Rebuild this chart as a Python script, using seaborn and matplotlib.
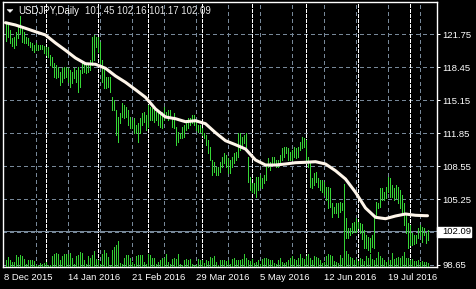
import numpy as np
import pandas as pd
import matplotlib
matplotlib.use("Agg")
import matplotlib.pyplot as plt
import matplotlib.transforms as mtrans
from matplotlib.patches import Polygon, Rectangle
import seaborn as sns

# ---------------- data ----------------
symbol = "USDJPY,Daily"
last_ohlc = [101.45, 102.16, 101.17, 102.09]
bid = 102.09

highs = [
    122.88, 122.65, 122.15, 121.32, 121.48, 121.98, 122.65, 123.55, 122.32, 121.98,
    121.48, 121.32, 120.98, 120.82, 120.65, 120.82, 120.65, 120.65, 120.65, 120.55,
    120.48, 120.42, 119.65, 119.48, 118.82, 118.65, 118.48, 117.98, 118.32, 118.48,
    118.48, 118.32, 118.15, 117.98, 118.32, 118.15, 118.48, 118.15, 118.82, 118.98,
    118.82, 118.65, 119.15, 121.48, 121.65, 121.48, 121.48, 120.98, 119.15, 118.32,
    117.48, 117.48, 117.48, 115.48, 115.15, 114.15, 113.48, 113.82, 114.82, 114.65,
    114.48, 114.15, 113.48, 113.15, 113.32, 112.65, 112.82, 113.32, 113.82, 113.98,
    113.65,
    114.65, 114.48, 114.32, 114.15, 113.98, 113.98, 113.82, 113.98, 114.48, 113.98,
    114.15, 114.15, 113.48, 113.82, 112.48, 111.98, 111.82, 112.48, 112.65, 113.15,
    113.32, 113.32, 113.65, 113.65, 113.15, 112.65, 112.65, 112.32, 111.82, 111.65,
    111.15, 110.48, 109.15, 108.98, 108.48, 108.48, 108.98, 109.48, 109.82, 109.65,
    109.32, 109.15, 109.48, 109.82, 109.98, 111.82, 111.82, 111.48, 111.65, 111.82,
    109.48, 107.48, 106.82, 106.82, 107.48, 107.48, 107.65, 107.32, 107.65, 108.65,
    109.32, 108.98, 109.48, 109.48, 109.15, 109.15, 109.65, 110.32, 110.48, 110.48,
    110.32, 109.98, 110.15,
    110.48, 110.32, 110.48, 110.98, 111.48, 111.32, 111.15, 109.48, 108.82, 107.32,
    107.82, 107.98, 107.32, 107.15, 107.15, 106.98,
    106.48, 106.48, 106.32, 104.82, 104.48, 104.82, 104.82, 104.98, 104.82, 106.72,
    103.32, 102.32, 102.32, 102.82, 102.98, 103.32, 102.98, 102.82, 102.72, 102.15,
    101.65, 101.48, 101.32, 101.65, 103.32, 104.98, 104.82, 106.32, 106.32, 105.98,
    106.48, 107.48, 107.32, 106.65, 106.32, 106.65, 106.48, 106.15, 105.65, 104.82,
    103.65, 102.82, 102.65, 101.82, 101.65, 101.65, 102.32, 102.65, 102.48, 102.32,
    101.82, 102.16,
]

lows = [
    121.08, 121.48, 120.82, 120.55, 120.32, 120.65, 121.32, 121.82, 120.98, 120.82,
    120.82, 120.65, 120.48, 120.15, 119.98, 120.15, 120.15, 120.22, 120.22, 119.88,
    119.65, 119.48, 118.65, 118.48, 117.48, 117.32, 117.48, 116.65, 116.98, 117.32,
    117.48, 116.98, 116.48, 116.82, 117.32, 116.98, 115.98, 116.48, 117.82, 117.98,
    117.82, 117.98, 118.15, 118.65, 119.15, 120.48, 119.98, 118.82, 116.98, 116.32,
    116.32, 116.48, 115.98, 114.15, 114.15, 111.65, 110.98, 112.82, 113.48, 113.32,
    113.48, 112.65, 112.32, 112.32, 111.82, 111.82, 110.98, 111.82, 112.65, 112.98,
    112.15,
    112.48, 113.15, 113.15, 112.98, 113.15, 112.65, 112.48, 112.32, 113.15, 113.48,
    113.15, 113.32, 112.48, 112.32, 110.65, 110.98, 111.32, 111.32, 111.48, 112.15,
    112.32, 112.65, 112.82, 112.65, 112.15, 111.98, 111.98, 111.65, 111.32, 110.65,
    109.82, 109.15, 107.65, 107.98, 107.65, 107.65, 107.98, 108.48, 108.82, 108.48,
    107.82, 107.82, 108.48, 108.82, 109.15, 109.48, 110.15, 110.48, 110.82, 110.48,
    106.98, 106.15, 105.98, 105.82, 105.48, 106.15, 106.48, 106.32, 106.82, 107.15,
    108.48, 108.15, 108.65, 108.65, 108.48, 108.48, 108.82, 109.15, 109.48, 109.82,
    109.15, 109.15, 109.15,
    109.48, 109.32, 109.48, 110.15, 110.32, 110.48, 108.98, 108.48, 106.48, 106.32,
    106.65, 106.98, 106.48, 106.15, 105.98, 105.65,
    105.15, 104.32, 104.48, 103.48, 103.82, 103.82, 103.48, 103.98, 104.15, 99.00,
    101.38, 101.38, 101.65, 101.82, 101.98, 101.98, 102.32, 101.82, 101.25, 100.32,
    100.32, 100.15, 99.92, 100.48, 100.32, 103.32, 104.32, 104.48, 105.15, 105.15,
    105.32, 105.98, 105.48, 105.48, 105.15, 105.32, 104.82, 104.32, 103.82, 102.65,
    101.82, 100.32, 100.65, 100.65, 100.72, 100.82, 101.32, 101.65, 100.98, 101.65,
    100.82, 101.17,
]

# tick volume, thousands
volumes = [
    67, 100, 67, 50, 50, 117, 100, 117, 107, 83,
    33, 67, 67, 67, 57, 17, 17, 40, 33, 40,
    50, 17, 17, 107, 133, 140, 133, 73, 107, 127,
    127, 133, 140, 93, 33, 107, 123, 150, 140, 67,
    33, 107, 93, 117, 160, 83, 67, 33, 127, 173,
    140, 100, 17, 167, 200, 217, 257, 40, 33, 93,
    117, 117, 93, 50, 27, 107, 117, 117, 117, 50,
    33, 127, 117, 93, 93, 33, 50, 73, 93, 93,
    133, 50, 33, 83, 93, 83, 127, 33, 17, 73,
    83, 73, 83, 33, 17, 17, 83, 73, 67, 40,
    67, 60, 100, 93, 107, 50, 17, 73, 73, 73,
    60, 67, 33, 83, 93, 73, 67, 67,
    77, 127, 93, 67, 60, 77, 43, 53, 67, 27,
    77, 87, 87, 77, 67, 67, 43, 33, 67, 87,
    53, 43, 53, 67, 87, 110, 77, 67, 93, 127,
    87, 77, 110, 127, 87, 67, 110, 100, 87, 67,
    43, 53, 110, 127, 120, 110, 60, 53, 43, 120,
    93, 343,
    160, 127, 100, 87, 67, 77, 60, 87, 77, 60,
    110, 93, 127, 77, 67, 93, 153, 110, 87, 67,
    53, 67, 67, 140, 77, 87, 100, 93, 110, 153,
    93, 87, 67, 77, 60, 60, 70, 50, 60, 50,
    50, 45,
]

ma_bars = list(range(0, 211, 5)) + [211]
ma_vals = [
    122.88, 122.65, 122.32, 121.98, 121.65, 120.85, 120.12, 119.35, 118.78, 118.72,
    118.32, 117.55, 116.92, 116.18, 115.42, 114.25, 113.45, 113.28, 112.98, 113.08,
    112.78, 111.88, 111.08, 110.68, 110.25, 109.15, 108.65, 108.65, 108.75, 108.88,
    108.92, 108.98, 108.75, 108.08, 107.25, 105.92, 104.35, 103.42, 103.28, 103.55,
    103.75, 103.62, 103.58, 103.58,
]

date_labels = ["8 Dec 2015", "14 Jan 2016", "21 Feb 2016", "29 Mar 2016",
               "5 May 2016", "12 Jun 2016", "19 Jul 2016"]
date_label_bars = [0, 32, 64, 96, 128, 160, 192]
month_start_bars = [20, 46, 71, 98, 123, 150, 176, 202]
price_levels = [121.75, 118.45, 115.15, 111.85, 108.55, 105.25, 101.95, 98.65]
labeled_levels = [121.75, 118.45, 115.15, 111.85, 108.55, 105.25, 98.65]

# ---------------- styling ----------------
sns.set_style("dark", rc={"axes.facecolor": "black", "figure.facecolor": "black"})
plt.rcParams["font.family"] = ["Liberation Sans", "DejaVu Sans"]

W, H = 476, 289
L, R, T, B = 3, 437, 2, 267
PX = 0.72  # one pixel in points

BAR_C = "#36d636"
VOL_C = "#32CD32"
GRID_C = "#778899"
MA_C = "#fff6ea"

fig = plt.figure(figsize=(W / 100, H / 100), dpi=100, facecolor="black")
ax = fig.add_axes([L / W, 1 - B / H, (R - L) / W, (B - T) / H])
ax.set_facecolor("black")

n = len(highs)
idx = np.arange(n)
df = pd.DataFrame({"bar": idx, "high": highs, "low": lows, "vol": volumes})

ax.set_xlim(-1.25, 215.75)
ax.set_ylim(98.45, 124.95)

# grid
for lv in price_levels:
    ax.axhline(lv, color=GRID_C, lw=PX, dashes=(3, 3), zorder=1, antialiased=False)
for gx in np.arange(-1, 216, 16)[1:]:
    ax.axvline(gx, color=GRID_C, lw=PX, dashes=(3, 3), zorder=1, antialiased=False)
# period separators
for mb in month_start_bars:
    ax.axvline(mb, color="white", lw=PX, dashes=(3, 2), zorder=1.5, antialiased=False)
# bid line
ax.axhline(bid, color=GRID_C, lw=PX, zorder=1.6, antialiased=False)

# price bars
ax.vlines(df["bar"], df["low"], df["high"], colors=BAR_C, linewidth=PX,
          antialiased=False, zorder=2)

# moving average
sns.lineplot(x=ma_bars, y=ma_vals, ax=ax, color=MA_C, linewidth=2.2,
             estimator=None, sort=False, zorder=3)

# volumes
ax2 = ax.twinx()
ax2.set_ylim(0, (B - T) * 10)
ax2.vlines(df["bar"], 0, df["vol"], colors=VOL_C, linewidth=PX, antialiased=False)
ax2.axis("off")

# frame
for s in ax.spines.values():
    s.set_visible(True)
    s.set_color("white")
    s.set_linewidth(1.0)

# y ticks right
ax.yaxis.tick_right()
ax.set_yticks(labeled_levels)
ax.set_yticklabels([f"{v:.2f}" for v in labeled_levels])
ax.tick_params(axis="y", which="both", left=False, right=True, colors="white",
               length=3 * PX, width=PX, pad=1.6, labelsize=6.8, labelcolor="white")

# x ticks
ax.set_xticks([b - 1 for b in date_label_bars])
ax.set_xticklabels(date_labels)
for lab in ax.get_xticklabels():
    lab.set_horizontalalignment("left")
ax.tick_params(axis="x", colors="white", length=3 * PX, width=PX, pad=2.5,
               labelsize=6.8, labelcolor="white")
ax.set_xlabel("")
ax.set_ylabel("")
ax.grid(False)

# bid label box
tr = mtrans.blended_transform_factory(ax.transAxes, ax.transData)
ax.add_patch(Rectangle((1.0, bid - 0.65), 34 / (R - L), 1.06, transform=tr,
                       facecolor="white", edgecolor="white", clip_on=False, zorder=5))
ax.text(1.0 + 5 / (R - L), bid - 0.12, f"{bid:.2f}", transform=tr, color="black",
        fontsize=6.8, ha="left", va="center", clip_on=False, zorder=6)

# title
tri = Polygon([[7 / W, 1 - 9.5 / H], [13 / W, 1 - 9.5 / H], [10 / W, 1 - 12.5 / H]],
              closed=True, transform=fig.transFigure, facecolor="white",
              edgecolor="white", lw=0.3)
fig.patches.append(tri)
fig.text(18 / W, 1 - 11 / H, symbol, color="white", fontsize=6.9, ha="left", va="center")
fig.text(85 / W, 1 - 11 / H, " ".join(f"{v:.2f}" for v in last_ohlc), color="#e6e6e6",
         fontsize=6.9, ha="left", va="center")

fig.savefig("out.png", dpi=100, facecolor="black")
